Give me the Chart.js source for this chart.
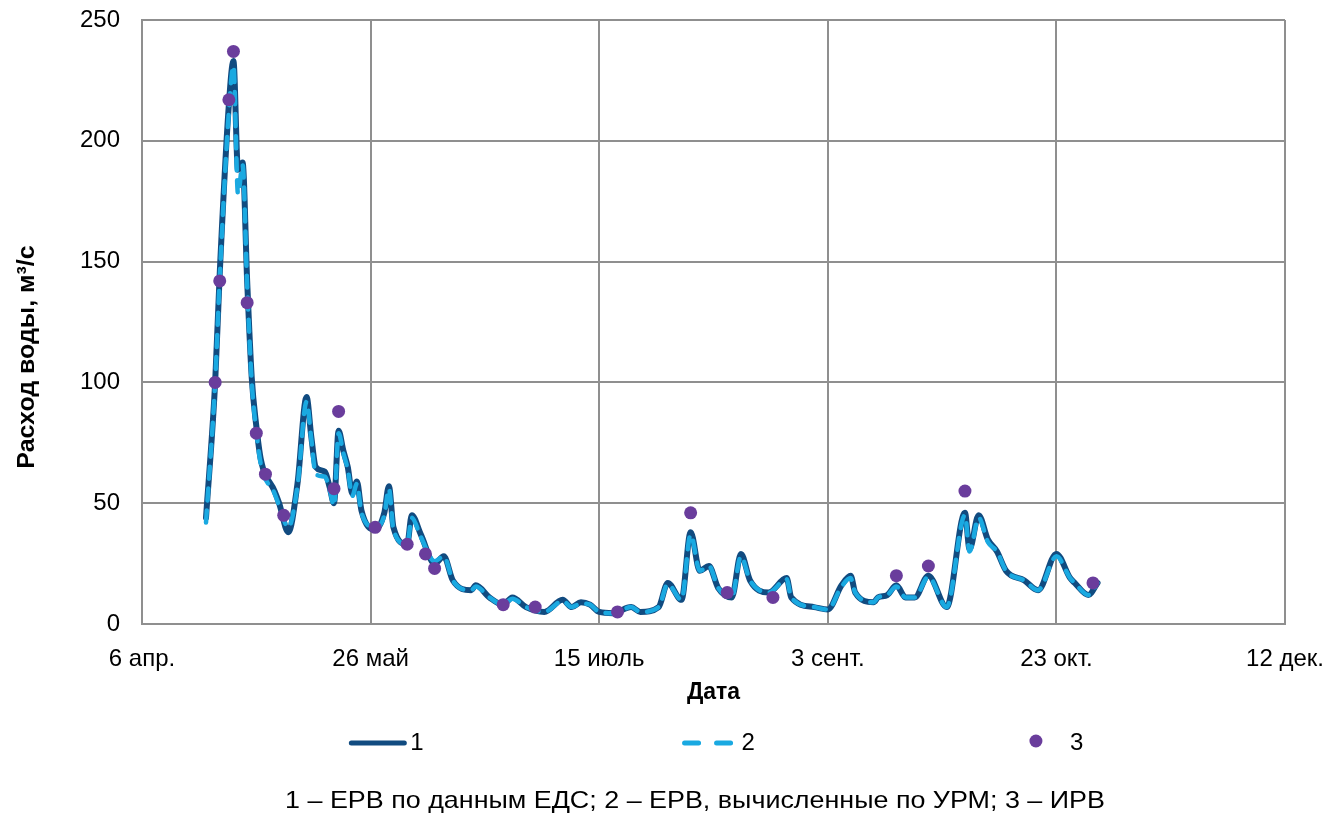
<!DOCTYPE html>
<html>
<head>
<meta charset="utf-8">
<script src="https://cdn.jsdelivr.net/npm/chart.js@4.4.1/dist/chart.umd.min.js"></script>
<style>
  html, body { margin: 0; padding: 0; background: #ffffff; }
  #wrap { width: 1341px; height: 814px; }
</style>
</head>
<body>
<div id="wrap"><canvas id="chart" width="1341" height="814"></canvas></div>
<script>
// Tick labels of the date axis (one every 50 days from 6 April)
const dateTicks = ['6 апр.', '26 май', '15 июль', '3 сент.', '23 окт.', '12 дек.'];

// 1 – ЕРВ по данным ЕДС (day offset from 6 April, m³/s)
const edsDays = [14, 16, 17, 19, 20, 21, 22, 23, 24, 25, 26, 29, 30, 32, 34, 36, 37, 38, 40, 41, 42, 43, 44, 45, 46, 47, 48, 51, 53, 54, 55, 58, 59, 61, 64, 66, 68, 72, 73, 76, 79, 81, 84, 88, 92, 94, 96, 98, 100, 103, 107, 109, 113, 115, 118, 120, 122, 124, 126, 129, 131, 133, 137, 141, 142, 147, 150, 153, 155, 156, 160, 161, 163, 165, 167, 169, 172, 176, 180, 181, 183, 185, 187, 189, 193, 196, 200, 203, 204, 207, 209];
const edsFlow = [44, 100, 145, 215, 233, 188, 191, 142, 102, 82, 68, 55, 50, 38, 58, 94, 78, 65, 63, 57, 50, 80, 72, 65, 54, 59, 47, 39, 46, 57, 40, 33, 45, 37, 25, 28, 18, 14, 16, 11, 8, 11, 7, 5, 10, 7, 9, 8, 5, 4.5, 7, 5, 7, 17, 10, 38, 22, 24, 15, 11, 29, 18, 13, 19, 11, 7, 6, 16, 20, 13, 9, 11, 12, 16, 11, 11, 20, 7, 46, 31, 45, 35, 30, 22, 18, 14, 29, 19, 17, 12, 17];

// 2 – ЕРВ, вычисленные по УРМ
const urmDays = [14, 16, 17, 19, 20, 21, 22, 23, 24, 25, 26, 29, 30, 32, 34, 36, 37, 38, 40, 41, 42, 43, 44, 45, 46, 47, 48, 51, 53, 54, 55, 58, 59, 61, 64, 66, 68, 72, 73, 76, 79, 81, 84, 88, 92, 94, 96, 98, 100, 103, 107, 109, 113, 115, 118, 120, 122, 124, 126, 129, 131, 133, 137, 141, 142, 147, 150, 153, 155, 156, 160, 161, 163, 165, 167, 169, 172, 176, 180, 181, 183, 185, 187, 189, 193, 196, 200, 203, 204, 207, 209];
const urmFlow = [42, 100, 143, 212, 231, 178, 190, 140, 100, 80, 66, 54, 49, 40, 57, 92, 77, 62, 61, 56, 49, 79, 71, 64, 53, 58, 46, 40, 45, 56, 39, 33, 44, 36, 26, 28, 18, 14, 15.5, 11, 8, 10.5, 7, 5, 9.5, 7, 8.5, 8, 5, 4.5, 7, 5, 7, 16.5, 10, 37, 22, 24, 15, 11, 28, 18, 13, 18.5, 11, 7, 6, 15.5, 19, 13, 9, 11, 12, 15.5, 11, 11, 19.5, 7, 45, 30, 44, 34, 30, 22, 18, 14, 28, 19, 17, 12, 17];

// 3 – ИРВ (single measurements)
const irvDays = [16, 17, 19, 20, 23, 25, 27, 31, 42, 43, 51, 58, 62, 64, 79, 86, 104, 120, 128, 138, 165, 172, 180, 208];
const irvFlow = [100, 142, 217, 237, 133, 79, 62, 45, 56, 88, 40, 33, 29, 23, 8, 7, 5, 46, 13, 11, 20, 24, 55, 17];

const seriesNames = ['1', '2', '3'];
const captionText = '1 – ЕРВ по данным ЕДС; 2 – ЕРВ, вычисленные по УРМ; 3 – ИРВ';
const yTitleText = 'Расход воды, м³/с';
const xTitleText = 'Дата';

const FONT = '"Liberation Sans", Arial, Helvetica, sans-serif';
const GRID = '#8f8f8f';

const toPoints = (xs, ys) => xs.map((x, i) => ({ x: x, y: ys[i] }));

// Vertical axis title, legend row and caption line drawn on the canvas
const decorations = {
  id: 'decorations',
  afterDraw(chart) {
    const ctx = chart.ctx;
    const ds = chart.data.datasets;
    const W = chart.width;
    ctx.save();

    // y-axis title
    ctx.save();
    ctx.translate(27, 357);
    ctx.rotate(-Math.PI / 2);
    ctx.scale(1.04, 1);
    ctx.font = 'bold 24px ' + FONT;
    ctx.fillStyle = '#000';
    ctx.textAlign = 'center';
    ctx.textBaseline = 'middle';
    ctx.fillText(yTitleText, 0, 0);
    ctx.restore();

    // legend
    const ly = 743;
    ctx.font = '24px ' + FONT;
    ctx.fillStyle = '#000';
    ctx.textBaseline = 'middle';
    ctx.textAlign = 'left';
    ctx.lineCap = 'round';

    const x1 = W * 0.262;
    ctx.strokeStyle = ds[0].borderColor;
    ctx.lineWidth = 5;
    ctx.setLineDash([]);
    ctx.beginPath(); ctx.moveTo(x1, ly); ctx.lineTo(x1 + 53, ly); ctx.stroke();
    ctx.fillStyle = '#000';
    ctx.fillText(seriesNames[0], x1 + 59, ly);

    const x2 = W * 0.509;
    ctx.strokeStyle = ds[1].borderColor;
    ctx.lineWidth = 5;
    ctx.setLineDash([14, 18]);
    ctx.beginPath(); ctx.moveTo(x2 + 2, ly); ctx.lineTo(x2 + 53, ly); ctx.stroke();
    ctx.setLineDash([]);
    ctx.fillText(seriesNames[1], x2 + 59, ly);

    const x3 = W * 0.7725;
    ctx.fillStyle = ds[2].backgroundColor;
    ctx.beginPath(); ctx.arc(x3, ly - 2, 6.5, 0, Math.PI * 2); ctx.fill();
    ctx.fillStyle = '#000';
    ctx.fillText(seriesNames[2], x3 + 34, ly);

    // caption
    ctx.save();
    ctx.translate(695, 801);
    ctx.scale(1.12, 1);
    ctx.font = '24px ' + FONT;
    ctx.textAlign = 'center';
    ctx.fillText(captionText, 0, 0);
    ctx.restore();

    ctx.restore();
  }
};

new Chart(document.getElementById('chart'), {
  type: 'line',
  data: {
    datasets: [
      {
        label: seriesNames[0],
        data: toPoints(edsDays, edsFlow),
        borderColor: '#114b80',
        borderWidth: 6,
        pointRadius: 0,
        cubicInterpolationMode: 'monotone',
        borderCapStyle: 'round',
        borderJoinStyle: 'round',
        fill: false,
        order: 3
      },
      {
        label: seriesNames[1],
        data: toPoints(urmDays, urmFlow),
        borderColor: '#1aa9e1',
        borderWidth: 4.5,
        borderDash: [12, 10],
        borderCapStyle: 'round',
        pointRadius: 0,
        cubicInterpolationMode: 'monotone',
        fill: false,
        order: 2
      },
      {
        label: seriesNames[2],
        data: toPoints(irvDays, irvFlow),
        showLine: false,
        pointRadius: 6.5,
        pointHoverRadius: 6.5,
        pointBorderWidth: 0,
        backgroundColor: '#6a3d9c',
        borderColor: '#6a3d9c',
        order: 1
      }
    ]
  },
  options: {
    responsive: false,
    devicePixelRatio: 1,
    animation: false,
    layout: { padding: { left: 0, top: 20, right: 56, bottom: 100 } },
    plugins: {
      legend: { display: false },
      tooltip: { enabled: false }
    },
    scales: {
      x: {
        type: 'linear',
        min: 0,
        max: 250,
        afterFit(scale) {
          scale.height = 90;
          scale.paddingLeft = 0;
          scale.paddingRight = 0;
        },
        ticks: {
          stepSize: 50,
          padding: 21,
          maxRotation: 0,
          color: '#000',
          font: { family: FONT, size: 24 },
          callback: (v) => dateTicks[Math.round(v / 50)]
        },
        grid: { color: GRID, lineWidth: 2, drawTicks: false },
        border: { display: true, color: GRID, width: 2 },
        title: {
          display: true,
          text: xTitleText,
          color: '#000',
          font: { family: FONT, size: 23, weight: 'bold' },
          padding: { top: 0, bottom: 8 }
        }
      },
      y: {
        min: 0,
        max: 250,
        afterFit(scale) {
          scale.width = 142;
          scale.paddingTop = 0;
          scale.paddingBottom = 0;
        },
        ticks: {
          stepSize: 50,
          padding: 22,
          color: '#000',
          font: { family: FONT, size: 24 }
        },
        grid: { color: GRID, lineWidth: 2, drawTicks: false },
        border: { display: true, color: GRID, width: 2 }
      }
    }
  },
  plugins: [decorations]
});
</script>
</body>
</html>
